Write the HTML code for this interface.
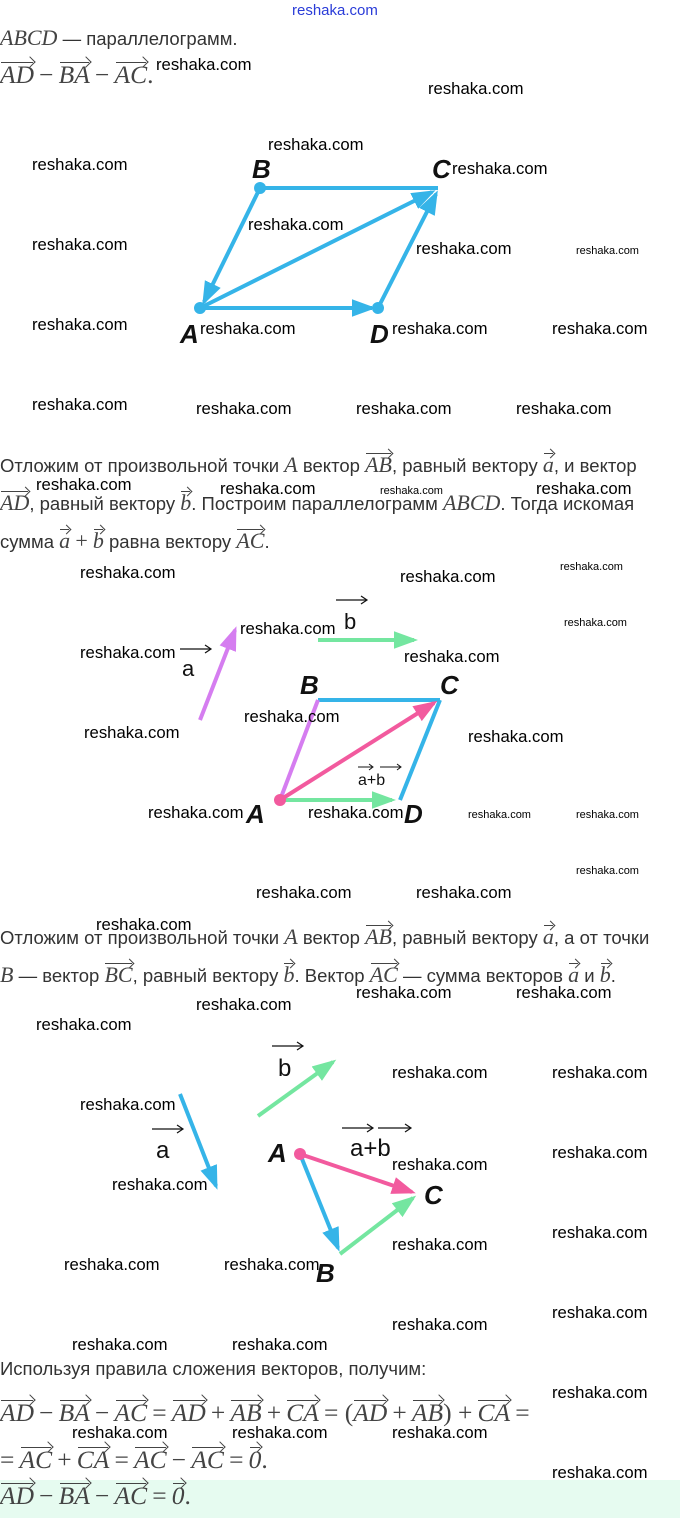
<!DOCTYPE html>
<html><head><meta charset="utf-8"><style>
html,body{margin:0;padding:0;background:#fff;}
body{width:680px;height:1518px;position:relative;overflow:hidden;font-family:"Liberation Sans",sans-serif;}
.w{position:absolute;font-family:"Liberation Sans",sans-serif;font-size:16.7px;line-height:18px;color:#000;white-space:nowrap;}
.ws{font-size:11px;line-height:12px;}
.t{position:absolute;left:0;font-size:18.5px;line-height:24px;color:#333;white-space:nowrap;}
.m{font-family:"Liberation Serif",serif;font-style:italic;font-size:22px;color:#444;}
.r{font-family:"Liberation Serif",serif;font-size:22px;color:#444;}
.v{position:relative;display:inline-block;font-family:"Liberation Serif",serif;font-style:italic;font-size:22px;line-height:24px;color:#444;}
.v::before{content:"";position:absolute;left:1px;right:1px;top:0px;border-top:1px solid #444;}
.v::after{content:"";position:absolute;right:0px;top:-3px;width:6px;height:6px;border-top:1px solid #444;border-right:1px solid #444;transform:rotate(45deg);}
.big .v,.big .r,.big .m{font-size:25.5px;line-height:26px;}
.big .v::after{width:7px;height:7px;top:-4px;}
svg{position:absolute;left:0;top:0;}
.lbl{font-family:"Liberation Sans",sans-serif;font-weight:bold;font-style:italic;font-size:26px;fill:#111;}
.sl{font-family:"Liberation Sans",sans-serif;font-size:22px;fill:#111;}
</style></head><body>
<div style="position:absolute;left:0;top:1480px;width:680px;height:38px;background:#e6fbf0;"></div>

<div class="w" style="left:292px;top:2px;color:#2a3cd8;font-size:15px;">reshaka.com</div>

<div class="t" style="top:26px;"><span class="m">ABCD</span> — параллелограмм.</div>
<div class="t big" style="top:62px;"><span class="v">AD</span> <span class="r">−</span> <span class="v">BA</span> <span class="r">−</span> <span class="v">AC</span><span class="r">.</span></div>

<div class="t" style="top:453px;">Отложим от произвольной точки <span class="m">A</span> вектор <span class="v">AB</span>, равный вектору <span class="v">a</span>, и вектор</div>
<div class="t" style="top:491px;"><span class="v">AD</span>, равный вектору <span class="v">b</span>. Построим параллелограмм <span class="m">ABCD</span>. Тогда искомая</div>
<div class="t" style="top:529px;">сумма <span class="v">a</span> <span class="r">+</span> <span class="v">b</span> равна вектору <span class="v">AC</span>.</div>

<div class="t" style="top:925px;">Отложим от произвольной точки <span class="m">A</span> вектор <span class="v">AB</span>, равный вектору <span class="v">a</span>, а от точки</div>
<div class="t" style="top:963px;"><span class="m">B</span> — вектор <span class="v">BC</span>, равный вектору <span class="v">b</span>. Вектор <span class="v">AC</span> — сумма векторов <span class="v">a</span> и <span class="v">b</span>.</div>

<div class="t" style="top:1357px;">Используя правила сложения векторов, получим:</div>
<div class="t big" style="top:1400px;"><span class="v">AD</span> <span class="r">−</span> <span class="v">BA</span> <span class="r">−</span> <span class="v">AC</span> <span class="r">=</span> <span class="v">AD</span> <span class="r">+</span> <span class="v">AB</span> <span class="r">+</span> <span class="v">CA</span> <span class="r">= (</span><span class="v">AD</span> <span class="r">+</span> <span class="v">AB</span><span class="r">) +</span> <span class="v">CA</span> <span class="r">=</span></div>
<div class="t big" style="top:1447px;"><span class="r">=</span> <span class="v">AC</span> <span class="r">+</span> <span class="v">CA</span> <span class="r">=</span> <span class="v">AC</span> <span class="r">−</span> <span class="v">AC</span> <span class="r">=</span> <span class="v">0</span><span class="r">.</span></div>
<div class="t big" style="top:1483px;"><span class="v">AD</span> <span class="r">−</span> <span class="v">BA</span> <span class="r">−</span> <span class="v">AC</span> <span class="r">=</span> <span class="v">0</span><span class="r">.</span></div>

<svg width="680" height="1518" viewBox="0 0 680 1518">
<defs>
<marker id="mb" markerWidth="6" markerHeight="6" refX="5" refY="3" orient="auto" markerUnits="strokeWidth"><path d="M0,0.8 L6,3 L0,5.2 z" fill="#35b4e8"/></marker>
<marker id="mg" markerWidth="6" markerHeight="6" refX="5" refY="3" orient="auto" markerUnits="strokeWidth"><path d="M0,0.8 L6,3 L0,5.2 z" fill="#74e6a0"/></marker>
<marker id="mv" markerWidth="6" markerHeight="6" refX="5" refY="3" orient="auto" markerUnits="strokeWidth"><path d="M0,0.8 L6,3 L0,5.2 z" fill="#d57df0"/></marker>
<marker id="mp" markerWidth="6" markerHeight="6" refX="5" refY="3" orient="auto" markerUnits="strokeWidth"><path d="M0,0.8 L6,3 L0,5.2 z" fill="#f25a9e"/></marker>
</defs>
<g stroke="#35b4e8" stroke-width="4" fill="none">
<line x1="260" y1="188" x2="438" y2="188"/>
<line x1="260" y1="188" x2="204" y2="302" marker-end="url(#mb)"/>
<line x1="200" y1="308" x2="372" y2="308" marker-end="url(#mb)"/>
<line x1="200" y1="308" x2="432" y2="192" marker-end="url(#mb)"/>
<line x1="378" y1="308" x2="436" y2="194" marker-end="url(#mb)"/>
</g>
<circle cx="260" cy="188" r="6" fill="#35b4e8"/><circle cx="200" cy="308" r="6" fill="#35b4e8"/><circle cx="378" cy="308" r="6" fill="#35b4e8"/>
<text class="lbl" x="252" y="178">B</text><text class="lbl" x="432" y="178">C</text>
<text class="lbl" x="180" y="343">A</text><text class="lbl" x="370" y="343">D</text>

<line x1="200" y1="720" x2="235" y2="630" stroke="#d57df0" stroke-width="4" marker-end="url(#mv)"/>
<line x1="318" y1="640" x2="414" y2="640" stroke="#74e6a0" stroke-width="4" marker-end="url(#mg)"/>
<text class="sl" x="182" y="676">a</text><line x1="180" y1="649" x2="210" y2="649" stroke="#111" stroke-width="1.2"/><path d="M205,645 L211,649 L205,653" stroke="#111" fill="none" stroke-width="1.2"/>
<text class="sl" x="344" y="629">b</text><line x1="336" y1="600" x2="366" y2="600" stroke="#111" stroke-width="1.2"/><path d="M361,596 L367,600 L361,604" stroke="#111" fill="none" stroke-width="1.2"/>
<line x1="318" y1="700" x2="440" y2="700" stroke="#35b4e8" stroke-width="4"/>
<line x1="400" y1="800" x2="440" y2="700" stroke="#35b4e8" stroke-width="4"/>
<line x1="280" y1="800" x2="318" y2="700" stroke="#d57df0" stroke-width="4"/>
<line x1="280" y1="800" x2="392" y2="800" stroke="#74e6a0" stroke-width="4" marker-end="url(#mg)"/>
<line x1="280" y1="800" x2="434" y2="703" stroke="#f25a9e" stroke-width="4" marker-end="url(#mp)"/>
<circle cx="280" cy="800" r="6" fill="#f25a9e"/>
<text class="lbl" x="300" y="694">B</text><text class="lbl" x="440" y="694">C</text>
<text class="lbl" x="246" y="823">A</text><text class="lbl" x="404" y="823">D</text>
<text x="358" y="785" style="font-family:'Liberation Sans',sans-serif;font-size:16px;fill:#111">a+b</text>
<line x1="358" y1="767" x2="372" y2="767" stroke="#111"/><path d="M369,764 L373,767 L369,770" stroke="#111" fill="none"/>
<line x1="380" y1="767" x2="400" y2="767" stroke="#111"/><path d="M397,764 L401,767 L397,770" stroke="#111" fill="none"/>

<line x1="180" y1="1094" x2="216" y2="1186" stroke="#35b4e8" stroke-width="4" marker-end="url(#mb)"/>
<line x1="258" y1="1116" x2="333" y2="1062" stroke="#74e6a0" stroke-width="4" marker-end="url(#mg)"/>
<line x1="300" y1="1154" x2="338" y2="1248" stroke="#35b4e8" stroke-width="4" marker-end="url(#mb)"/>
<line x1="340" y1="1254" x2="413" y2="1198" stroke="#74e6a0" stroke-width="4" marker-end="url(#mg)"/>
<line x1="300" y1="1154" x2="412" y2="1192" stroke="#f25a9e" stroke-width="4" marker-end="url(#mp)"/>
<circle cx="300" cy="1154" r="6" fill="#f25a9e"/>
<text class="sl" x="156" y="1158" style="font-size:24px">a</text><line x1="152" y1="1129" x2="182" y2="1129" stroke="#111" stroke-width="1.2"/><path d="M177,1125 L183,1129 L177,1133" stroke="#111" fill="none" stroke-width="1.2"/>
<text class="sl" x="278" y="1076" style="font-size:24px">b</text><line x1="272" y1="1046" x2="302" y2="1046" stroke="#111" stroke-width="1.2"/><path d="M297,1042 L303,1046 L297,1050" stroke="#111" fill="none" stroke-width="1.2"/>
<text class="sl" x="350" y="1156" style="font-size:24px">a+b</text>
<line x1="342" y1="1128" x2="372" y2="1128" stroke="#111" stroke-width="1.2"/><path d="M367,1124 L373,1128 L367,1132" stroke="#111" fill="none" stroke-width="1.2"/>
<line x1="378" y1="1128" x2="410" y2="1128" stroke="#111" stroke-width="1.2"/><path d="M405,1124 L411,1128 L405,1132" stroke="#111" fill="none" stroke-width="1.2"/>
<text class="lbl" x="268" y="1162">A</text><text class="lbl" x="316" y="1282">B</text><text class="lbl" x="424" y="1204">C</text>
</svg>

<div class="w" style="left:156px;top:56px">reshaka.com</div>
<div class="w" style="left:428px;top:80px">reshaka.com</div>
<div class="w" style="left:268px;top:136px">reshaka.com</div>
<div class="w" style="left:32px;top:156px">reshaka.com</div>
<div class="w" style="left:452px;top:160px">reshaka.com</div>
<div class="w" style="left:248px;top:216px">reshaka.com</div>
<div class="w" style="left:32px;top:236px">reshaka.com</div>
<div class="w" style="left:416px;top:240px">reshaka.com</div>
<div class="w ws" style="left:576px;top:245px">reshaka.com</div>
<div class="w" style="left:32px;top:316px">reshaka.com</div>
<div class="w" style="left:200px;top:320px">reshaka.com</div>
<div class="w" style="left:392px;top:320px">reshaka.com</div>
<div class="w" style="left:552px;top:320px">reshaka.com</div>
<div class="w" style="left:32px;top:396px">reshaka.com</div>
<div class="w" style="left:196px;top:400px">reshaka.com</div>
<div class="w" style="left:356px;top:400px">reshaka.com</div>
<div class="w" style="left:516px;top:400px">reshaka.com</div>
<div class="w" style="left:36px;top:476px">reshaka.com</div>
<div class="w" style="left:220px;top:480px">reshaka.com</div>
<div class="w ws" style="left:380px;top:485px">reshaka.com</div>
<div class="w" style="left:536px;top:480px">reshaka.com</div>
<div class="w" style="left:80px;top:564px">reshaka.com</div>
<div class="w" style="left:400px;top:568px">reshaka.com</div>
<div class="w ws" style="left:560px;top:561px">reshaka.com</div>
<div class="w ws" style="left:564px;top:617px">reshaka.com</div>
<div class="w" style="left:240px;top:620px">reshaka.com</div>
<div class="w" style="left:80px;top:644px">reshaka.com</div>
<div class="w" style="left:404px;top:648px">reshaka.com</div>
<div class="w" style="left:244px;top:708px">reshaka.com</div>
<div class="w" style="left:84px;top:724px">reshaka.com</div>
<div class="w" style="left:468px;top:728px">reshaka.com</div>
<div class="w" style="left:148px;top:804px">reshaka.com</div>
<div class="w" style="left:308px;top:804px">reshaka.com</div>
<div class="w ws" style="left:468px;top:809px">reshaka.com</div>
<div class="w ws" style="left:576px;top:809px">reshaka.com</div>
<div class="w ws" style="left:576px;top:865px">reshaka.com</div>
<div class="w" style="left:256px;top:884px">reshaka.com</div>
<div class="w" style="left:416px;top:884px">reshaka.com</div>
<div class="w" style="left:96px;top:916px">reshaka.com</div>
<div class="w" style="left:196px;top:996px">reshaka.com</div>
<div class="w" style="left:356px;top:984px">reshaka.com</div>
<div class="w" style="left:516px;top:984px">reshaka.com</div>
<div class="w" style="left:36px;top:1016px">reshaka.com</div>
<div class="w" style="left:392px;top:1064px">reshaka.com</div>
<div class="w" style="left:552px;top:1064px">reshaka.com</div>
<div class="w" style="left:80px;top:1096px">reshaka.com</div>
<div class="w" style="left:552px;top:1144px">reshaka.com</div>
<div class="w" style="left:392px;top:1156px">reshaka.com</div>
<div class="w" style="left:112px;top:1176px">reshaka.com</div>
<div class="w" style="left:552px;top:1224px">reshaka.com</div>
<div class="w" style="left:392px;top:1236px">reshaka.com</div>
<div class="w" style="left:64px;top:1256px">reshaka.com</div>
<div class="w" style="left:224px;top:1256px">reshaka.com</div>
<div class="w" style="left:552px;top:1304px">reshaka.com</div>
<div class="w" style="left:392px;top:1316px">reshaka.com</div>
<div class="w" style="left:72px;top:1336px">reshaka.com</div>
<div class="w" style="left:232px;top:1336px">reshaka.com</div>
<div class="w" style="left:552px;top:1384px">reshaka.com</div>
<div class="w" style="left:72px;top:1424px">reshaka.com</div>
<div class="w" style="left:232px;top:1424px">reshaka.com</div>
<div class="w" style="left:392px;top:1424px">reshaka.com</div>
<div class="w" style="left:552px;top:1464px">reshaka.com</div>
</body></html>
